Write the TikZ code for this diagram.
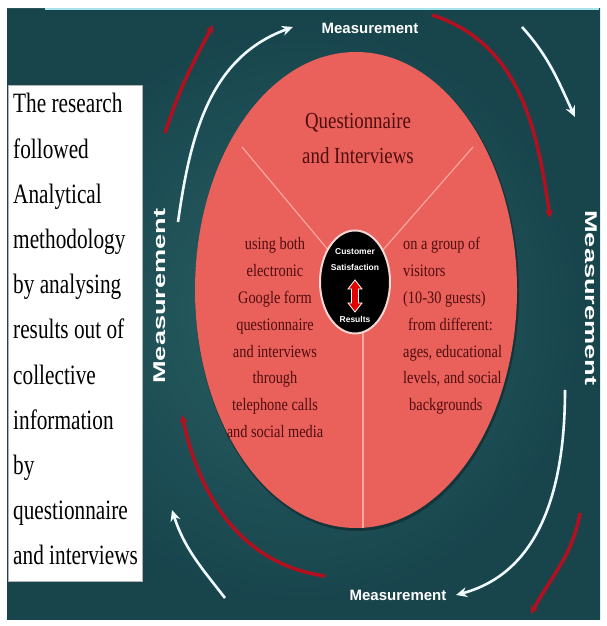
\documentclass[tikz,border=0pt]{standalone}
\usepackage{fontspec}
\setmainfont{Liberation Serif}
\newfontfamily\condserif[FakeStretch=0.76]{Liberation Serif}
\newfontfamily\ellserif[FakeStretch=0.82]{Liberation Serif}
\newfontfamily\boldsans{Liberation Sans}
\usetikzlibrary{arrows.meta,shapes.geometric}
\definecolor{bgdark}{HTML}{18444C}
\definecolor{bglight}{HTML}{2A6467}
\definecolor{salmon}{HTML}{EA605B}
\definecolor{maroon}{HTML}{4E0E0E}
\definecolor{arrowred}{HTML}{B3101F}
\definecolor{divider}{HTML}{F5A7A0}
\definecolor{topline}{HTML}{A6E3EA}
\definecolor{hubrim}{HTML}{F6D7D3}
\tikzset{
  whitearc/.style={draw=white!94!cyan, line width=2.6pt, -{Stealth[length=11pt,width=10pt]}},
  redarc/.style={draw=arrowred, line width=3.5pt, -{Stealth[length=8pt,width=8pt]}},
  boxtext/.style={anchor=base west, inner sep=0pt, font=\condserif\fontsize{28}{30}\selectfont, text=black},
  elltext/.style={inner sep=0pt, font=\ellserif\fontsize{17.5}{20}\selectfont, text=maroon},
  titletext/.style={inner sep=0pt, anchor=base, font=\ellserif\fontsize{23}{24}\selectfont, text=maroon},
  meas/.style={inner sep=0pt, text=white, font=\boldsans\bfseries\fontsize{15}{15}\selectfont},
  measv/.style={inner sep=0pt, text=white, font=\boldsans\bfseries\fontsize{17}{17}\selectfont},
  hubtext/.style={inner sep=0pt, text=white, font=\boldsans\bfseries\fontsize{8.5}{8.5}\selectfont},
  divline/.style={draw=divider, line width=1.2pt}
}
\begin{document}
\begin{tikzpicture}[x=1pt,y=1pt]
\useasboundingbox (0,0) rectangle (606,626);
\fill[white] (0,0) rectangle (606,626);
% background
\fill[bgdark] (7,6) rectangle (600,617);
\shade[inner color=bglight, outer color=bgdark, opacity=0.9] (7,6) rectangle (600,617);
\draw[topline, line width=1.5pt] (45,617) -- (599,617);
% white text box
\node[draw=gray!60, fill=white, line width=0.6pt, minimum width=134pt, minimum height=496pt, anchor=north west, inner sep=0pt] (box) at (8,541) {};
\foreach \t [count=\i] in {The research,followed,Analytical,methodology,by analysing,results out of,collective,information,by,questionnaire,and interviews}
  \node[boxtext] (bl\i) at (13, 513 - 45.2*\i + 45.2) {\t};
% big ellipse
\fill[black, opacity=0.3] (357,334) ellipse [x radius=162, y radius=239];
\fill[salmon] (356,336) ellipse [x radius=161, y radius=238];
% divider lines
\coordinate (hubc) at (355,344);
\coordinate (dl) at (242,479);
\coordinate (dr) at (473,479);
\coordinate (dbtop) at (363,300);
\coordinate (dbbot) at (363,98);
\draw[divline] (dl) -- (hubc);
\draw[divline] (dr) -- (hubc);
\draw[divline] (dbtop) -- (dbbot);
% hub
\node[ellipse, fill=black, draw=hubrim, line width=2pt, minimum width=70pt, minimum height=103pt] (hub) at (hubc) {};
\node[hubtext] (cust) at (355,374) {Customer};
\node[hubtext] (sat) at (355,359) {Satisfaction};
\draw[fill=red!88!black, draw=white, line width=0.8pt, line join=miter]
  (355,346) -- (362,337) -- (358.5,337) -- (358.5,323) -- (362,323) -- (355,314)
  -- (348,323) -- (351.5,323) -- (351.5,337) -- (348,337) -- cycle;
\node[hubtext] (res) at (355,307) {Results};
% ellipse texts
\node[titletext] (q1) at (358,497) {Questionnaire};
\node[titletext] (q2) at (358,462) {and Interviews};
\foreach \t [count=\i] in {using both,electronic,Google form,questionnaire,and interviews,through,telephone calls,and social media}
  \node[elltext, anchor=base] (lt\i) at (275, 376 - 26.8*\i + 26.8) {\t};
\foreach \t [count=\i] in {on a group of,visitors,(10-30 guests),\hspace{5pt}from different:,{ages, educational},{levels, and social},\hspace{6pt}backgrounds}
  \node[elltext, anchor=base west] (rt\i) at (403, 376 - 26.8*\i + 26.8) {\t};
% Measurement labels
\node[meas] (mtop) at (370,598) {Measurement};
\node[meas] (mbot) at (398,31) {Measurement};
\node[measv, rotate=90] (mleft) at (160,330) {\scalebox{1.6}[1]{Measurement}};
\node[measv, rotate=-90] (mright) at (591,328) {\scalebox{1.6}[1]{Measurement}};
% white arcs
\coordinate (w1a) at (178,404); \coordinate (w1b) at (293,599);
\coordinate (w2a) at (522,599); \coordinate (w2b) at (575,509);
\coordinate (w3a) at (565,236); \coordinate (w3b) at (456,31);
\coordinate (w4a) at (225,28);  \coordinate (w4b) at (172,116);
\draw[whitearc] (w1a) to[out=82,in=200] (w1b);
\draw[whitearc] (w2a) to[out=-48,in=115] (w2b);
\draw[whitearc] (w3a) to[out=-90,in=15] (w3b);
\draw[whitearc] (w4a) to[out=128,in=-72] (w4b);
% red arcs
\coordinate (r1a) at (165,493); \coordinate (r1b) at (213,601);
\coordinate (r2a) at (432,611); \coordinate (r2b) at (550,408);
\coordinate (r3a) at (325,50);  \coordinate (r3b) at (182,211);
\coordinate (r4a) at (580,113); \coordinate (r4b) at (531,12);
\draw[redarc] (r1a) to[out=72,in=-118] (r1b);
\draw[redarc] (r2a) to[out=-18,in=98] (r2b);
\draw[redarc] (r3a) to[out=172,in=-78] (r3b);
\draw[redarc] (r4a) to[out=-100,in=62] (r4b);
\end{tikzpicture}
\end{document}
